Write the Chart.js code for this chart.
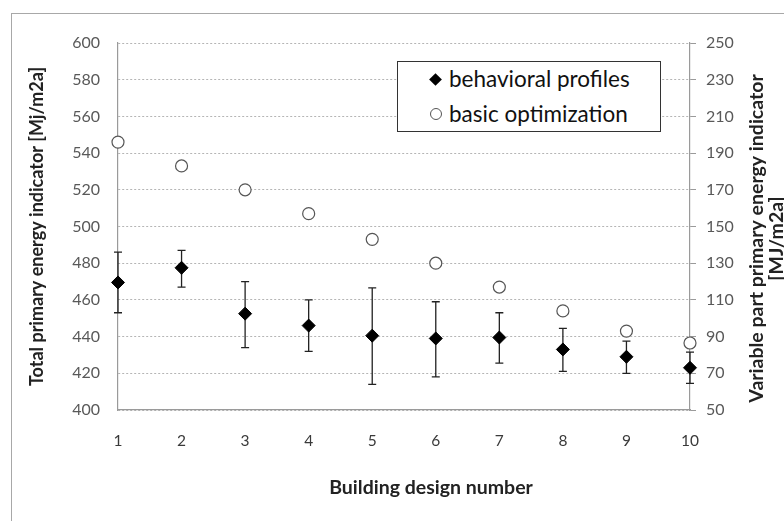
<!DOCTYPE html>
<html>
<head>
<meta charset="utf-8">
<title>Primary energy indicator by building design</title>
<script src="https://cdn.jsdelivr.net/npm/chart.js@4.4.0/dist/chart.umd.min.js"></script>
<style>
  html, body { margin: 0; padding: 0; background: #fff; }
  #wrap { position: relative; width: 784px; height: 521px; overflow: hidden; }
  canvas { display: block; }
  #legend {
    position: absolute; left: 397px; top: 61px; width: 264px; height: 71px;
    box-sizing: border-box; border: 1px solid #333; background: #fff;
    font-family: Lato, sans-serif; font-size: 22.5px; color: #111;
  }
  #legend .row { position: absolute; left: 51px; height: 28px; line-height: 28px; white-space: nowrap; }
  #legend .mark { position: absolute; box-sizing: border-box; }
  #legend .diamond { width: 9px; height: 9px; background: #000; transform: rotate(45deg); left: 33px; }
  #legend .circle { width: 12px; height: 12px; border: 1.2px solid #555; border-radius: 50%; left: 32px; }
</style>
</head>
<body>
<div id="wrap">
  <canvas id="energyChart" width="784" height="521"></canvas>
  <div id="legend">
    <span class="mark diamond" style="top:13px"></span>
    <span class="row" style="top:3px">behavioral profiles</span>
    <span class="mark circle" style="top:46px"></span>
    <span class="row" style="top:38px">basic optimization</span>
  </div>
</div>
<script>
// values (left axis units, right axis = left - 350)
const designs = [1, 2, 3, 4, 5, 6, 7, 8, 9, 10];
const behavioral = [469.5, 477.5, 452.5, 446, 440.5, 439, 439.5, 433, 429, 423];
const behavioralLow = [453, 467, 434, 432, 414, 418, 425.5, 421, 420, 414.5];
const behavioralHigh = [486, 487, 470, 460, 466.5, 459, 453, 444.5, 437.5, 431.5];
const basic = [546, 533, 520, 507, 493, 480, 467, 454, 443, 436.5];

const leftTitle = 'Total primary energy indicator [Mj/m2a]';
const rightTitle = ['Variable part primary energy indicator', '[MJ/m2a]'];
const xTitle = 'Building design number';

const tickColor = '#595959';
const axisColor = '#9a9a9a';

// error bars for the behavioral profiles, drawn through the scales
const errorBars = {
    id: 'errorBars',
    beforeDatasetsDraw(chart) {
        const { ctx, scales: { x, y } } = chart;
        ctx.save();
        ctx.strokeStyle = '#222';
        ctx.lineWidth = 1.3;
        designs.forEach((d, i) => {
            const px = x.getPixelForValue(d);
            const top = y.getPixelForValue(behavioralHigh[i]);
            const bot = y.getPixelForValue(behavioralLow[i]);
            ctx.beginPath();
            ctx.moveTo(px, top); ctx.lineTo(px, bot);
            ctx.moveTo(px - 4, top); ctx.lineTo(px + 4, top);
            ctx.moveTo(px - 4, bot); ctx.lineTo(px + 4, bot);
            ctx.stroke();
        });
        ctx.restore();
    }
};

// outer frame, x title and the right axis title (reads bottom to top like the left one)
const frame = {
    id: 'frame',
    beforeDraw(chart) {
        const ctx = chart.ctx;
        ctx.save();
        ctx.strokeStyle = '#a8a8a8';
        ctx.lineWidth = 1;
        ctx.strokeRect(11.5, 13.5, 820, 560);
        ctx.restore();
    },
    afterDraw(chart) {
        const ctx = chart.ctx;
        const area = chart.chartArea;
        ctx.save();
        ctx.fillStyle = '#222';
        ctx.textAlign = 'center';
        ctx.textBaseline = 'middle';
        ctx.font = 'bold 19.5px Lato, sans-serif';
        ctx.fillText(xTitle, 431, 488);
        ctx.font = 'bold 19.5px Lato, sans-serif';
        ctx.translate(757, (area.top + area.bottom) / 2 + 12);
        ctx.rotate(-Math.PI / 2);
        rightTitle.forEach((line, i) => ctx.fillText(line, 0, i * 20));
        ctx.restore();
    }
};

const ctx = document.getElementById('energyChart').getContext('2d');
const energyChart = new Chart(ctx, {
    type: 'scatter',
    data: {
        datasets: [{
            label: 'behavioral profiles',
            data: designs.map((d, i) => ({ x: d, y: behavioral[i] })),
            pointStyle: 'rectRot',
            pointRadius: 6.5,
            backgroundColor: '#000',
            borderColor: '#000',
            borderWidth: 1,
            clip: false
        }, {
            label: 'basic optimization',
            data: designs.map((d, i) => ({ x: d, y: basic[i] })),
            pointStyle: 'circle',
            pointRadius: 6,
            backgroundColor: '#fff',
            borderColor: '#555',
            borderWidth: 1.2,
            clip: false
        }]
    },
    options: {
        responsive: false,
        animation: false,
        layout: { padding: { top: 43, left: 0, right: 0, bottom: 0 } },
        plugins: { legend: { display: false }, tooltip: { enabled: false } },
        scales: {
            x: {
                type: 'linear', min: 1, max: 10,
                afterFit: s => { s.height = 111; },
                ticks: { stepSize: 1, padding: 22, color: '#3a3a3a', font: { family: 'Lato', size: 15.5 } },
                grid: { drawOnChartArea: false, drawTicks: false },
                border: { color: axisColor, width: 1.2 }
            },
            y: {
                position: 'left', min: 400, max: 600,
                afterFit: s => { s.width = 118; },
                ticks: { stepSize: 20, padding: 18, color: tickColor, font: { family: 'Lato', size: 16 } },
                grid: { color: '#b5b5b5', drawTicks: false },
                border: { color: axisColor, width: 1.2, dash: [2, 2] },
                title: { display: true, text: leftTitle, color: '#222', padding: { top: 26 },
                         font: { family: 'Lato', size: 18, weight: 'bold' } }
            },
            y2: {
                position: 'right', min: 50, max: 250,
                afterFit: s => { s.width = 94; },
                ticks: { stepSize: 20, padding: 10, color: tickColor, font: { family: 'Lato', size: 16 } },
                grid: { drawOnChartArea: false, drawTicks: true, tickLength: 6, color: axisColor },
                border: { color: axisColor, width: 1.2 }
            }
        }
    },
    plugins: [errorBars, frame]
});
</script>
</body>
</html>
